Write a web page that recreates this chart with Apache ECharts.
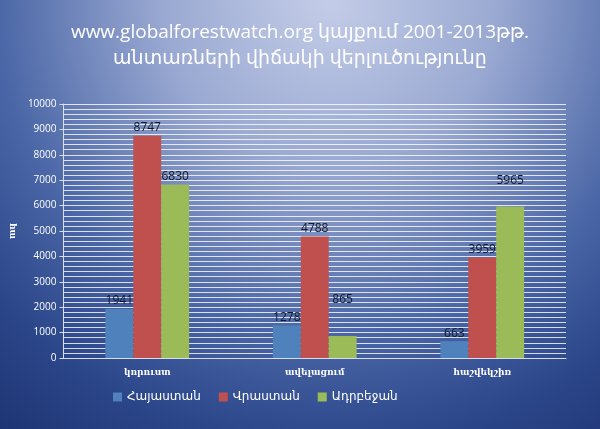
<!DOCTYPE html>
<html>
<head>
<meta charset="utf-8">
<script src="https://cdn.jsdelivr.net/npm/echarts@6/dist/echarts.min.js"></script>
<style>
html,body{margin:0;padding:0;}
#c{width:600px;height:429px;}
</style>
</head>
<body>
<div id="c"></div>
<script>
const titleLines = ['www.globalforestwatch.org կայքում 2001-2013թթ.', 'անտառների վիճակի վերլուծությունը'];
const categories = ['կորուստ', 'ավելացում', 'հաշվեկշիռ'];
const seriesNames = ['Հայաստան', 'Վրաստան', 'Ադրբեջան'];
const armenia = [1941, 1278, 663];
const georgia = [8747, 4788, 3959];
const azerbaijan = [6830, 865, 5965];
const colors = ['#4F81BD', '#C0504D', '#9BBB59'];
const yTicks = [0, 1000, 2000, 3000, 4000, 5000, 6000, 7000, 8000, 9000, 10000];
const yName = 'հա';

// label lift (styling) for labels that sit higher than their bar in the reference
const labelLift = {'2-1': 28, '2-2': 18};

const values = [armenia, georgia, azerbaijan];
const font = 'Open Sans, DejaVu Sans, sans-serif';

const series = seriesNames.map((name, si) => ({
  name: name,
  type: 'bar',
  barGap: '0%',
  barCategoryGap: '50%',
  itemStyle: {color: colors[si]},
  data: values[si].map((v, ci) => {
    const lift = labelLift[si + '-' + ci] || 0;
    return {value: v, label: {offset: [0, -lift]}};
  }),
  label: {
    show: true,
    position: 'top',
    distance: 2,
    color: '#111827',
    fontSize: 12,
    fontFamily: font
  }
}));

const chart = echarts.init(document.getElementById('c'), null, {renderer: 'canvas'});
chart.setOption({
  backgroundColor: {
    type: 'radial', x: 0.55, y: 0.0, r: 1.3,
    colorStops: [
      {offset: 0, color: '#c4cde8'},
      {offset: 0.3, color: '#9aa9d2'},
      {offset: 0.6, color: '#4a66a6'},
      {offset: 0.8, color: '#2b4689'},
      {offset: 1, color: '#1c3270'}
    ]
  },
  animation: false,
  title: {
    text: titleLines.join('\n'),
    left: 'center',
    top: 15,
    textStyle: {color: '#ffffff', fontSize: 19, fontWeight: 'normal', fontFamily: font, lineHeight: 26}
  },
  legend: {
    data: seriesNames,
    left: 108,
    top: 386,
    icon: 'rect',
    itemWidth: 9,
    itemHeight: 9,
    itemGap: 18,
    textStyle: {color: '#ffffff', fontSize: 12, fontFamily: font}
  },
  grid: {left: 62, right: 34, top: 104, bottom: 71, containLabel: false},
  xAxis: {
    type: 'category',
    data: categories,
    axisLine: {lineStyle: {color: '#d8deea', width: 1}},
    axisTick: {show: false},
    axisLabel: {color: '#ffffff', fontSize: 9, fontWeight: 'bold', fontFamily: 'DejaVu Serif, serif', margin: 10}
  },
  yAxis: {
    type: 'value',
    min: yTicks[0],
    max: yTicks[yTicks.length - 1],
    interval: 1000,
    name: yName,
    nameLocation: 'middle',
    nameRotate: -90,
    nameGap: 40,
    nameTextStyle: {color: '#ffffff', fontSize: 9, fontWeight: 'bold', fontFamily: 'DejaVu Serif, serif'},
    axisLine: {show: true, lineStyle: {color: '#d8deea', width: 1}},
    axisTick: {show: true, length: 4, lineStyle: {color: '#d8deea'}},
    axisLabel: {color: '#ffffff', fontSize: 10, fontFamily: font, margin: 7, formatter: v => String(v)},
    splitLine: {show: true, lineStyle: {color: 'rgba(255,255,255,0.8)', width: 1}},
    minorTick: {show: false, splitNumber: 5},
    minorSplitLine: {show: true, lineStyle: {color: 'rgba(255,255,255,0.8)', width: 1}}
  },
  series: series
});
</script>
</body>
</html>
